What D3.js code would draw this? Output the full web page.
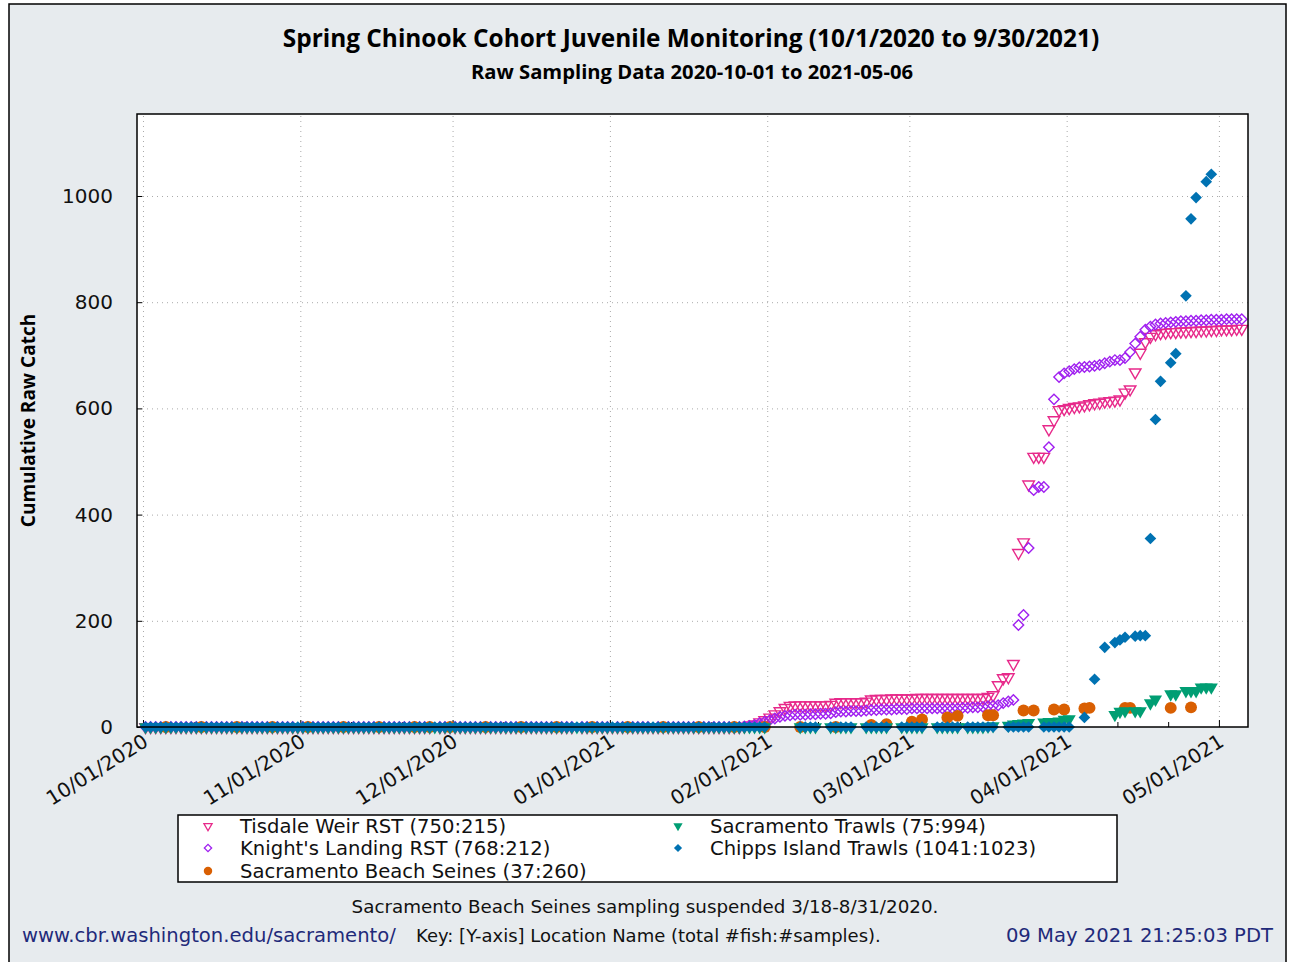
<!DOCTYPE html>
<html>
<head>
<meta charset="utf-8">
<script src="https://cdn.jsdelivr.net/npm/d3@7"></script>
<style>
body { margin: 0; background: #fff; }
svg text { font-family: "DejaVu Sans", sans-serif; }
</style>
</head>
<body>
<script>
// cumulative raw catch per day, index 0 = 2020-10-01, _ = no sample that day
const _ = null;
const startDate = "2020-10-01";

const tisdale = [
  0,0,0,0,0,0,0,0,0,0,0,0,0,0,0,0,0,0,0,0,
  0,0,0,0,0,0,0,0,0,0,0,0,0,0,0,0,0,0,0,0,
  0,0,0,0,0,0,0,0,0,0,0,0,0,0,0,0,0,_,0,0,
  0,0,0,0,0,0,0,0,0,0,0,0,0,0,0,0,0,0,0,0,
  0,0,0,0,0,_,0,0,0,0,0,0,0,0,0,0,0,0,0,0,
  0,0,0,0,0,0,0,0,0,0,0,0,0,0,0,0,0,0,1,3,
  5,9,13,18,24,30,36,40,41,41,41,41,41,41,41,42,46,47,47,47,
  47,47,48,52,53,53,53,54,54,54,54,54,55,55,55,55,55,55,55,55,
  55,55,55,55,55,55,57,60,79,92,94,119,328,348,457,509,509,509,561,578,
  597,599,601,603,604,606,608,610,611,613,614,615,617,630,636,668,705,725,735,740,
  742,743,744,744,745,745,746,746,747,747,748,748,749,749,749,750,750
];
const knights = [
  0,0,0,0,0,0,0,0,0,0,0,0,0,0,0,0,0,0,0,0,
  0,0,0,0,0,0,0,0,0,0,_,0,0,0,0,0,0,0,0,0,
  0,0,0,0,0,0,0,0,0,0,0,0,0,0,0,0,0,_,0,0,
  0,0,0,0,0,0,0,0,0,0,0,0,0,0,0,0,0,0,0,0,
  0,0,0,0,0,_,0,0,0,0,0,0,_,0,0,0,0,0,0,0,
  _,0,0,0,0,0,0,0,0,0,0,0,0,0,0,0,0,0,1,2,
  4,7,10,13,16,19,21,22,23,23,23,24,24,25,25,26,28,29,29,30,
  30,30,31,32,32,33,33,33,34,34,34,35,35,35,35,35,35,35,35,35,
  35,36,36,37,37,38,39,40,41,45,48,51,192,211,337,446,452,452,527,617,
  659,666,670,674,677,678,679,680,682,685,688,691,691,695,706,722,735,748,754,758,
  760,761,762,763,764,764,765,765,766,766,767,767,767,768,768,768,768
];
const seines = [
  _,_,_,_,0,_,_,_,_,_,_,0,_,_,_,_,_,_,0,_,
  _,_,_,_,_,0,_,_,_,_,_,_,0,_,_,_,_,_,_,0,
  _,_,_,_,_,_,0,_,_,_,_,_,_,0,_,_,0,_,_,_,
  0,_,_,_,_,_,_,0,_,_,_,_,_,_,0,_,_,_,_,_,
  _,0,_,_,_,_,_,_,0,_,_,_,_,_,_,0,_,_,_,_,
  _,_,0,_,_,_,_,_,_,0,_,_,_,_,_,_,0,_,_,_,
  _,_,0,_,_,_,_,_,_,0,_,_,_,_,_,_,0,_,_,_,
  _,_,_,4,_,_,5,_,_,_,_,10,_,14,_,_,_,_,18,_,
  21,_,_,_,_,_,22,22,_,_,_,_,_,31,_,31,_,_,_,33,
  _,33,_,_,_,35,36,_,_,_,_,_,_,36,36,_,_,_,_,_,
  _,_,36,_,_,_,37,_,_,_,_,_,_,_,_,_,_
];
const trawls = [
  0,0,0,0,0,0,0,0,0,0,0,0,0,0,0,0,0,0,0,0,
  0,0,0,0,0,0,0,0,0,0,0,0,0,0,0,0,0,0,0,0,
  0,0,0,0,0,0,0,0,0,0,0,0,0,0,0,0,0,0,0,0,
  0,0,0,0,0,0,0,0,0,0,0,0,0,0,0,0,0,0,0,0,
  0,0,0,0,0,0,0,0,0,0,0,0,0,0,0,0,0,0,0,0,
  0,0,0,0,0,0,0,0,0,0,0,0,0,0,0,0,0,0,0,0,
  0,0,0,_,_,_,_,_,_,0,0,0,0,_,_,0,0,0,0,0,
  _,_,0,0,0,0,0,_,_,0,0,0,0,0,_,_,0,0,0,0,
  0,_,0,0,0,0,1,2,_,_,3,5,6,7,8,_,_,9,10,10,
  11,14,15,_,_,_,_,_,_,_,_,23,29,30,_,30,30,_,45,52,
  _,_,62,62,_,68,68,68,75,75,75,_,_,_,_,_,_
];
const chipps = [
  0,0,0,0,0,0,0,0,0,0,0,0,0,0,0,0,0,0,0,0,
  0,0,0,0,0,0,0,0,0,0,0,0,0,0,0,0,0,0,0,0,
  0,0,0,0,0,0,0,0,0,0,0,0,0,0,0,0,0,0,0,0,
  0,0,0,0,0,0,0,0,0,0,0,0,0,0,0,0,0,0,0,0,
  0,0,0,0,0,0,0,0,0,0,0,0,0,0,0,0,0,0,0,0,
  0,0,0,0,0,0,0,0,0,0,0,0,0,0,0,0,0,0,0,0,
  0,0,0,_,_,_,_,_,_,0,0,0,0,_,_,0,0,0,0,0,
  _,_,0,0,0,0,0,_,_,0,0,0,0,0,_,_,0,0,0,0,
  0,_,0,0,0,0,0,0,_,_,0,0,0,0,0,_,_,0,0,0,
  0,0,0,_,_,18,_,90,_,150,_,159,164,169,_,171,172,172,355,579,
  651,_,686,703,_,812,957,997,_,1027,1041,_,_,_,_,_,_
];

const seriesNames = [
  "Tisdale Weir RST (750:215)",
  "Knight's Landing RST (768:212)",
  "Sacramento Beach Seines (37:260)",
  "Sacramento Trawls (75:994)",
  "Chipps Island Trawls (1041:1023)"
];
const seriesColors = ["#e7298a", "#a020f0", "#d95f02", "#009e73", "#0072b2"];
const yTicks = [0, 200, 400, 600, 800, 1000];
const xTickDates = ["2020-10-01","2020-11-01","2020-12-01","2021-01-01","2021-02-01","2021-03-01","2021-04-01","2021-05-01"];

const W = 1291, H = 962;
const plot = {left: 137, top: 114, right: 1248, bottom: 727};

const parse = d3.utcParse("%Y-%m-%d");
const t0 = parse(startDate);
const dayDate = (i, h) => new Date(t0.getTime() + (i * 24 + h) * 3600e3);

const svg = d3.select("body").append("svg")
  .attr("width", W).attr("height", H);

svg.append("rect")
  .attr("x", 9).attr("y", 4).attr("width", 1277).attr("height", 970)
  .attr("fill", "#e7ebee").attr("stroke", "#000").attr("stroke-width", 1.5);

svg.append("text").attr("x", 691).attr("y", 47)
  .attr("text-anchor", "middle")
  .style("font-family", "'Open Sans', sans-serif")
  .style("font-weight", "bold").style("font-size", "24.4px")
  .text("Spring Chinook Cohort Juvenile Monitoring (10/1/2020 to 9/30/2021)");
svg.append("text").attr("x", 692).attr("y", 79)
  .attr("text-anchor", "middle")
  .style("font-family", "'Open Sans', sans-serif")
  .style("font-weight", "bold").style("font-size", "20.2px")
  .text("Raw Sampling Data 2020-10-01 to 2021-05-06");

var xScale = d3.scaleUtc()
  .domain([dayDate(-1.18, 0), dayDate(217.73, 0)])
  .range([plot.left, plot.right]);
var yScale = d3.scaleLinear()
  .domain([0, 1154.4])
  .range([plot.bottom, plot.top]);

svg.append("rect")
  .attr("x", plot.left).attr("y", plot.top)
  .attr("width", plot.right - plot.left).attr("height", plot.bottom - plot.top)
  .attr("fill", "#fff");

const g = svg.append("g");
const xTicks = xTickDates.map(parse);

// grid
var yGrid = d3.axisLeft(yScale).tickValues(yTicks.slice(1)).tickFormat('')
  .tickSizeInner(-(plot.right - plot.left)).tickSizeOuter(0);
var xGrid = d3.axisBottom(xScale).tickValues(xTicks).tickFormat('')
  .tickSizeInner(-(plot.bottom - plot.top)).tickSizeOuter(0);
g.append("g").attr("transform", "translate(" + plot.left + ",0)").call(yGrid);
g.append("g").attr("transform", "translate(0," + plot.bottom + ")").call(xGrid);
g.selectAll(".tick line").attr("stroke", "#aaa").attr("stroke-dasharray", "1,4");
g.selectAll(".domain").remove();

// minor ticks on 11th and 21st
const minor = d3.utcDay.range(xScale.domain()[0], xScale.domain()[1])
  .filter(d => d.getUTCDate() === 11 || d.getUTCDate() === 21);

const axG = svg.append("g");
var xAxis = d3.axisBottom(xScale).tickValues(xTicks)
  .tickFormat(d3.utcFormat("%m/%d/%Y")).tickSizeInner(-7).tickSizeOuter(0);
var xMinor = d3.axisBottom(xScale).tickValues(minor).tickFormat('')
  .tickSizeInner(-5).tickSizeOuter(0);
var yAxis = d3.axisLeft(yScale).tickValues(yTicks).tickFormat(d3.format("d"))
  .tickSizeInner(-5).tickSizeOuter(0).tickPadding(24);

const xa = axG.append("g").attr("transform", "translate(0," + plot.bottom + ")").call(xAxis);
axG.append("g").attr("transform", "translate(0," + plot.bottom + ")").call(xMinor);
const ya = axG.append("g").attr("transform", "translate(" + plot.left + ",0)").call(yAxis);
axG.selectAll(".domain").remove();
axG.selectAll(".tick line").attr("stroke", "#000");
xa.selectAll("text")
  .attr("y", 0).attr("dy", 0)
  .attr("text-anchor", "end")
  .attr("transform", "translate(6,18) rotate(-32)")
  .style("font-size", "20px").attr("fill", "#111");
ya.selectAll("text").style("font-size", "20px").attr("fill", "#111");

svg.append("text")
  .attr("transform", "translate(35," + ((plot.top + plot.bottom) / 2) + ") rotate(-90)")
  .attr("text-anchor", "middle")
  .style("font-family", "'Open Sans', sans-serif")
  .style("font-weight", "bold").style("font-size", "19px")
  .text("Cumulative Raw Catch");

// markers
const shapes = [
  {type: d3.symbolTriangle, size: 58, rot: 180, fill: false},
  {type: d3.symbolSquare, size: 54, rot: 45, fill: false},
  {type: d3.symbolCircle, size: 112, rot: 0, fill: true},
  {type: d3.symbolTriangle, size: 74, rot: 180, fill: true},
  {type: d3.symbolSquare, size: 68, rot: 45, fill: true}
];
const allData = [tisdale, knights, seines, trawls, chipps];

const marks = svg.append("g");
allData.forEach(function(vals, si) {
  const sh = shapes[si];
  const pts = vals.map((v, i) => ({date: dayDate(i, 12), v: v})).filter(p => p.v !== null);
  marks.append("g").selectAll("path").data(pts).enter().append("path")
    .attr("d", d3.symbol(sh.type, sh.size)())
    .attr("transform", p => "translate(" + xScale(p.date) + "," + yScale(p.v) + ") rotate(" + sh.rot + ")")
    .attr("fill", sh.fill ? seriesColors[si] : "none")
    .attr("stroke", sh.fill ? "none" : seriesColors[si])
    .attr("stroke-width", 1.4);
});

// frame
svg.append("rect")
  .attr("x", plot.left).attr("y", plot.top)
  .attr("width", plot.right - plot.left).attr("height", plot.bottom - plot.top)
  .attr("fill", "none").attr("stroke", "#000").attr("stroke-width", 1.5);

// legend
const lg = svg.append("g");
lg.append("rect").attr("x", 178).attr("y", 815).attr("width", 939).attr("height", 67)
  .attr("fill", "#fff").attr("stroke", "#000").attr("stroke-width", 1.5);
const legendPos = [[208, 826], [208, 848], [208, 871], [678, 826], [678, 848]];
seriesNames.forEach(function(name, si) {
  const sh = shapes[si];
  const p = legendPos[si];
  lg.append("path")
    .attr("d", d3.symbol(sh.type, sh.size * 0.5)())
    .attr("transform", "translate(" + p[0] + "," + p[1] + ") rotate(" + sh.rot + ")")
    .attr("fill", sh.fill ? seriesColors[si] : "none")
    .attr("stroke", sh.fill ? "none" : seriesColors[si]).attr("stroke-width", 1.3);
  lg.append("text").attr("x", p[0] + 32).attr("y", p[1] + 7)
    .style("font-size", "19.6px").attr("fill", "#111").text(name);
});

// footer
svg.append("text").attr("x", 645).attr("y", 913).attr("text-anchor", "middle")
  .style("font-size", "18.3px").attr("fill", "#111")
  .text("Sacramento Beach Seines sampling suspended 3/18-8/31/2020.");
svg.append("text").attr("x", 22).attr("y", 942)
  .style("font-size", "19.6px").attr("fill", "#1f2a7a")
  .text("www.cbr.washington.edu/sacramento/");
svg.append("text").attr("x", 416).attr("y", 942)
  .style("font-size", "18px").attr("fill", "#111")
  .text("Key: [Y-axis] Location Name (total #fish:#samples).");
svg.append("text").attr("x", 1273).attr("y", 942).attr("text-anchor", "end")
  .style("font-size", "19.6px").attr("fill", "#1f2a7a")
  .text("09 May 2021 21:25:03 PDT");
</script>
</body>
</html>
